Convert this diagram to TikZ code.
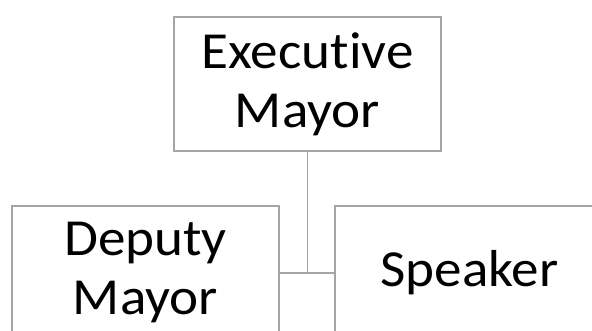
\documentclass[tikz,border=0pt]{standalone}
\usepackage{fontspec}
\setmainfont[Ligatures={NoCommon}, FakeStretch=1.06]{Carlito}
\definecolor{boxgray}{HTML}{A5A5A5}
\tikzset{
  orgbox/.style={draw=boxgray, line width=1.5pt, rectangle, inner sep=0pt,
    align=center, text=black, font=\fontsize{52}{59}\selectfont},
  link/.style={draw=boxgray, line width=1.5pt}
}
\begin{document}
\begin{tikzpicture}[x=1pt,y=-1pt]
\useasboundingbox (0,0) rectangle (592,331);
\clip (0,0) rectangle (592,331);
\fill[white] (0,0) rectangle (592,331);
\node[orgbox, minimum width=267pt, minimum height=134pt] (exec) at (307.5,84) {Executive\\Mayor};
\node[orgbox, minimum width=267pt, minimum height=134pt] (deputy) at (145.5,273) {Deputy\\Mayor};
\node[orgbox, minimum width=269pt, minimum height=134pt] (speaker) at (469.5,273) {Speaker};
\coordinate (junc) at (exec.south |- deputy.east);
\draw[link] (exec.south) -- (junc);
\draw[link] (deputy.east) -- (speaker.west);
\end{tikzpicture}
\end{document}
